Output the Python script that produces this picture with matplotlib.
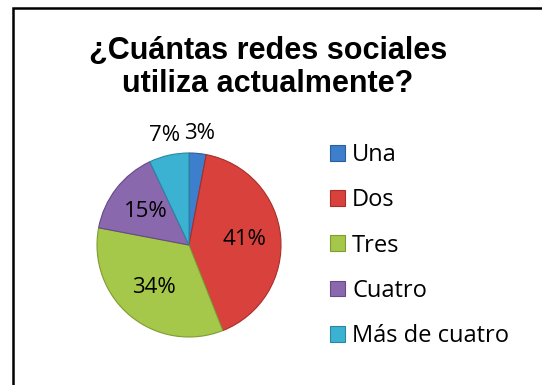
import numpy as np
import matplotlib
matplotlib.use('Agg')
import matplotlib.pyplot as plt
from matplotlib.patches import Patch, Rectangle

categorias = ['Una', 'Dos', 'Tres', 'Cuatro', 'Más de cuatro']
porcentajes = [3, 41, 34, 15, 7]
colores = ['#3d7fcc', '#d9413d', '#a5c74a', '#8a68ae', '#3bb2d2']
bordes = ['#2b5e9c', '#a82e2b', '#7f9c33', '#654a86', '#2a87a2']

fig = plt.figure(figsize=(5.42, 3.85), dpi=100)

# marco del grafico
fig.patches.append(Rectangle((13 / 542, -0.05), 1.0, (385 - 8) / 385 + 0.05,
                             transform=fig.transFigure, fill=False,
                             edgecolor='black', linewidth=1.8))

# titulo
fig.text(268 / 542, 1 - 67.5 / 385, '¿Cuántas redes sociales\nutiliza actualmente?',
         ha='center', va='center', fontsize=22, fontweight='bold',
         family='Liberation Sans', linespacing=1.14)

# pastel
ax = fig.add_axes([(189 - 100) / 542, (385 - 245 - 100) / 385, 200 / 542, 200 / 385])
R = 0.92
wedges, _ = ax.pie(porcentajes, colors=colores, startangle=90, counterclock=False,
                   radius=R, wedgeprops=dict(linewidth=0.8))
for w, b in zip(wedges, bordes):
    w.set_edgecolor(b)
ax.set_xlim(-1, 1)
ax.set_ylim(-1, 1)
ax.set_aspect('equal')
ax.axis('off')

for w, p in zip(wedges, porcentajes):
    ang = np.deg2rad((w.theta1 + w.theta2) / 2)
    d = 0.6 * R if p >= 10 else 1.22 * R
    ax.text(d * np.cos(ang), d * np.sin(ang), f'{p}%', ha='center', va='center',
            fontsize=16, family='Open Sans')

# leyenda
handles = [Patch(facecolor=c, edgecolor=b, linewidth=0.8) for c, b in zip(colores, bordes)]
fig.legend(handles, categorias, loc='upper left', bbox_to_anchor=(330 / 542, 1 - 143 / 385),
           frameon=False, borderpad=0, borderaxespad=0, handlelength=0.64,
           handleheight=0.64, handletextpad=0.3, labelspacing=0.9,
           prop={'family': 'Open Sans', 'size': 17})

fig.savefig('out.png', dpi=100)
